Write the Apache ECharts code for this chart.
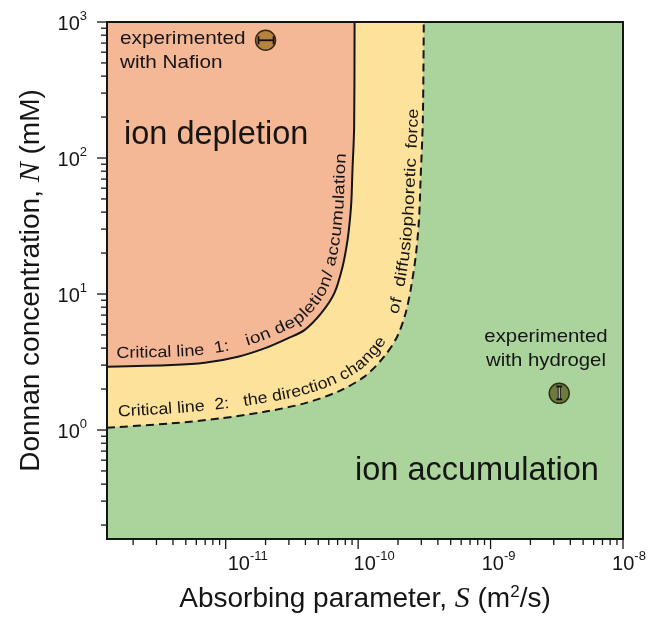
<!DOCTYPE html>
<html><head><meta charset="utf-8">
<script src="https://cdn.jsdelivr.net/npm/echarts@6/dist/echarts.min.js"></script>
<style>html,body{margin:0;padding:0;background:#fff}#c{width:649px;height:621px}</style>
</head><body><div id="c"></div>
<script>
// ---------------- data ----------------
const xRange = [1.27e-12, 1e-8];
const yRange = [0.158, 1000];
const xMajorTicks = [1e-11, 1e-10, 1e-9, 1e-8];
const yMajorTicks = [1, 10, 100, 1000];
const xMinorTicks = [2e-12,3e-12,4e-12,5e-12,6e-12,7e-12,8e-12,9e-12,
  2e-11,3e-11,4e-11,5e-11,6e-11,7e-11,8e-11,9e-11,
  2e-10,3e-10,4e-10,5e-10,6e-10,7e-10,8e-10,9e-10,
  2e-9,3e-9,4e-9,5e-9,6e-9,7e-9,8e-9,9e-9];
const yMinorTicks = [0.2,0.3,0.4,0.5,0.6,0.7,0.8,0.9,2,3,4,5,6,7,8,9,20,30,40,50,60,70,80,90,200,300,400,500,600,700,800,900];
// Critical line 1 (solid): ion depletion / accumulation
const criticalLine1 = [[1.27e-12,2.92],[3.91e-12,3.0],[6.95e-12,3.12],[1.24e-11,3.46],[1.96e-11,3.98],[2.94e-11,4.72],[3.93e-11,5.43],[5.25e-11,7.2],[6.6e-11,10.1],[7.62e-11,15.8],[8.32e-11,24.9],[8.71e-11,36.9],[8.9e-11,49],[9.06e-11,81],[9.33e-11,168],[9.4e-11,1000]];
// Critical line 2 (dashed): direction change of diffusiophoretic force
const criticalLine2 = [[1.27e-12,1.04],[3.91e-12,1.12],[9.29e-12,1.22],[1.96e-11,1.36],[3.93e-11,1.57],[6.98e-11,1.91],[1.11e-10,2.46],[1.57e-10,3.46],[1.97e-10,4.85],[2.28e-10,7.2],[2.49e-10,10.7],[2.72e-10,18.8],[2.88e-10,34.9],[2.96e-10,68.7],[3.08e-10,190],[3.13e-10,1000]];
// experiments: [S, N, low, high]
const nafionPoint = [2.0e-11, 734, 1.77e-11, 2.30e-11];   // error in S
const hydrogelPoint = [3.3e-9, 1.86, 1.68, 2.09];         // error in N

// ---------------- styles ----------------
const FONT = '"Liberation Sans", Arial, Helvetica, sans-serif';
const SERIF = '"Liberation Serif", "Times New Roman", serif';
const INK = '#151515';
const SALMON = '#F4B897', YELLOW = '#FDE29B', GREEN = '#AAD49B';
// horizontal nudge (spacer width, px) of the x tick labels, keyed by exponent
const xLabelNudge = {'-11': 44, '-10': 32, '-9': 16, '-8': 12};

const chart = echarts.init(document.getElementById('c'), null, {renderer: 'canvas'});

function powLabel(v) {
  const l = Math.log10(v), e = Math.round(l);
  if (Math.abs(l - e) > 1e-6) return '';
  return '{b|10}{s|' + e + '}';
}
function powLabelX(v) {
  const t = powLabel(v);
  if (!t) return '';
  const e = String(Math.round(Math.log10(v)));
  return '{g' + e.replace('-', 'm') + '| }' + t;
}
const labelRich = {
  b: {fontSize: 20, fontFamily: FONT, color: INK, lineHeight: 24, verticalAlign: 'bottom'},
  s: {fontSize: 13, fontFamily: FONT, color: INK, lineHeight: 15, verticalAlign: 'top'}
};
const labelRichX = Object.assign({}, labelRich);
Object.keys(xLabelNudge).forEach(k => { labelRichX['g' + k.replace('-', 'm')] = {width: xLabelNudge[k], fontSize: 10}; });

const xTickData = xMajorTicks.map(v => [v, yRange[0], 1]).concat(xMinorTicks.map(v => [v, yRange[0], 0]));
const yTickData = yMajorTicks.map(v => [xRange[0], v, 1]).concat(yMinorTicks.map(v => [xRange[0], v, 0]));

const option = {
  animation: false,
  backgroundColor: '#fff',
  grid: {left: 107, top: 22, right: 26, bottom: 82, show: true, backgroundColor: GREEN, borderWidth: 0,
         containLabel: false, outerBoundsMode: 'none'},
  xAxis: {
    type: 'log', logBase: 10, min: xRange[0], max: xRange[1],
    axisLine: {show: false}, axisTick: {show: false}, splitLine: {show: false},
    axisLabel: {margin: 11, formatter: powLabelX, rich: labelRichX, hideOverlap: false},
    name: 'Absorbing parameter, {i|S} (m{s|2}/s)', nameLocation: 'middle', nameGap: 45,
    nameTextStyle: {fontSize: 28, fontFamily: FONT, color: INK,
      rich: {i: {fontFamily: SERIF, fontStyle: 'italic', fontSize: 30, color: INK},
             s: {fontSize: 17, fontFamily: FONT, color: INK, verticalAlign: 'top', lineHeight: 18}}}
  },
  yAxis: {
    type: 'log', logBase: 10, min: yRange[0], max: yRange[1],
    axisLine: {show: false}, axisTick: {show: false}, splitLine: {show: false},
    axisLabel: {margin: 20, formatter: powLabel, rich: labelRich, hideOverlap: false},
    name: 'Donnan concentration, {i|N} (mM)', nameLocation: 'middle', nameGap: 61,
    nameTextStyle: {fontSize: 28, fontFamily: FONT, color: INK,
      rich: {i: {fontFamily: SERIF, fontStyle: 'italic', fontSize: 30, color: INK}}}
  },
  series: [
    {type: 'line', data: criticalLine2, smooth: 0.3, symbol: 'none', z: 2,
     lineStyle: {color: INK, width: 2, type: [8, 5]},
     areaStyle: {color: YELLOW, opacity: 1, origin: 'end'}},
    {type: 'line', data: criticalLine1, smooth: 0.3, symbol: 'none', z: 3,
     lineStyle: {color: INK, width: 2},
     areaStyle: {color: SALMON, opacity: 1, origin: 'end'}},
    {type: 'custom', z: 5, clip: false, data: xTickData, encode: {x: 0, y: 1},
     renderItem: (params, api) => {
       const p = api.coord([api.value(0), api.value(1)]);
       const len = api.value(2) ? 10 : 6;
       return {type: 'line', shape: {x1: p[0], y1: p[1], x2: p[0], y2: p[1] + len}, style: {stroke: INK, lineWidth: 1.3}};
     }},
    {type: 'custom', z: 5, clip: false, data: yTickData, encode: {x: 0, y: 1},
     renderItem: (params, api) => {
       const p = api.coord([api.value(0), api.value(1)]);
       const len = api.value(2) ? 10 : 6;
       return {type: 'line', shape: {x1: p[0], y1: p[1], x2: p[0] - len, y2: p[1]}, style: {stroke: INK, lineWidth: 1.3}};
     }},
    {type: 'scatter', z: 6, symbol: 'circle', symbolSize: 20, data: [[nafionPoint[0], nafionPoint[1]]],
     itemStyle: {color: '#B5823F', borderColor: '#3a2a14', borderWidth: 1.5, opacity: 1}},
    {type: 'scatter', z: 6, symbol: 'circle', symbolSize: 20, data: [[hydrogelPoint[0], hydrogelPoint[1]]],
     itemStyle: {color: '#6F7B3C', borderColor: '#2b3015', borderWidth: 1.5, opacity: 1}},
    {type: 'custom', z: 7, data: [nafionPoint], encode: {x: 0, y: 1},
     renderItem: (params, api) => {
       const a = api.coord([api.value(2), api.value(1)]), b = api.coord([api.value(3), api.value(1)]);
       return {type: 'group', children: [
         {type: 'line', shape: {x1: a[0], y1: a[1], x2: b[0], y2: b[1]}, style: {stroke: '#111', lineWidth: 1.8}},
         {type: 'line', shape: {x1: a[0], y1: a[1] - 4, x2: a[0], y2: a[1] + 4}, style: {stroke: '#111', lineWidth: 1.8}},
         {type: 'line', shape: {x1: b[0], y1: b[1] - 4, x2: b[0], y2: b[1] + 4}, style: {stroke: '#111', lineWidth: 1.8}}
       ]};
     }},
    {type: 'custom', z: 7, data: [hydrogelPoint], encode: {x: 0, y: 1},
     renderItem: (params, api) => {
       const a = api.coord([api.value(0), api.value(2)]), b = api.coord([api.value(0), api.value(3)]);
       return {type: 'group', children: [
         {type: 'line', shape: {x1: a[0], y1: a[1], x2: b[0], y2: b[1]}, style: {stroke: '#111', lineWidth: 3}},
         {type: 'line', shape: {x1: a[0] - 3, y1: a[1], x2: a[0] + 3, y2: a[1]}, style: {stroke: '#111', lineWidth: 1.8}},
         {type: 'line', shape: {x1: b[0] - 3, y1: b[1], x2: b[0] + 3, y2: b[1]}, style: {stroke: '#111', lineWidth: 1.8}},
         {type: 'line', shape: {x1: a[0], y1: a[1] - 1, x2: b[0], y2: b[1] + 1}, style: {stroke: '#e8e8e8', lineWidth: 1}}
       ]};
     }}
  ]
};
chart.setOption(option);

// ---------------- text along the critical lines ----------------
const mctx = document.createElement('canvas').getContext('2d');
function toPx(d) { return chart.convertToPixel({gridIndex: 0}, d); }
function densePath(data) {
  const px = data.map(toPx), out = [];
  for (let i = 0; i < px.length - 1; i++) {
    const p0 = px[Math.max(0, i - 1)], p1 = px[i], p2 = px[i + 1], p3 = px[Math.min(px.length - 1, i + 2)];
    for (let k = 0; k < 24; k++) {
      const t = k / 24, t2 = t * t, t3 = t2 * t;
      const f = (a, b, c, d) => 0.5 * (2 * b + (-a + c) * t + (2 * a - 5 * b + 4 * c - d) * t2 + (-a + 3 * b - 3 * c + d) * t3);
      out.push([f(p0[0], p1[0], p2[0], p3[0]), f(p0[1], p1[1], p2[1], p3[1])]);
    }
  }
  out.push(px[px.length - 1]);
  return out;
}
function offsetPath(pts, d0, d1) {
  const n = pts.length, cum = [0];
  for (let i = 1; i < n; i++) cum.push(cum[i - 1] + Math.hypot(pts[i][0] - pts[i - 1][0], pts[i][1] - pts[i - 1][1]));
  const total = cum[n - 1], out = [];
  for (let i = 0; i < n; i++) {
    const a = pts[Math.max(0, i - 4)], b = pts[Math.min(n - 1, i + 4)];
    let tx = b[0] - a[0], ty = b[1] - a[1]; const L = Math.hypot(tx, ty) || 1; tx /= L; ty /= L;
    const d = d0 + (d1 - d0) * (cum[i] / total);
    out.push([pts[i][0] + ty * d, pts[i][1] - tx * d]);
  }
  return out;
}
function pathTools(pts) {
  const cum = [0];
  for (let i = 1; i < pts.length; i++) cum.push(cum[i - 1] + Math.hypot(pts[i][0] - pts[i - 1][0], pts[i][1] - pts[i - 1][1]));
  function at(s) {
    s = Math.max(0, Math.min(cum[cum.length - 1], s));
    let i = 1; while (i < cum.length - 1 && cum[i] < s) i++;
    const t = (s - cum[i - 1]) / ((cum[i] - cum[i - 1]) || 1);
    return [pts[i - 1][0] + (pts[i][0] - pts[i - 1][0]) * t, pts[i - 1][1] + (pts[i][1] - pts[i - 1][1]) * t];
  }
  function nearest(p) {
    let best = 0, bd = Infinity;
    pts.forEach((q, i) => { const dd = (q[0] - p[0]) ** 2 + (q[1] - p[1]) ** 2; if (dd < bd) { bd = dd; best = i; } });
    return cum[best];
  }
  return {at, nearest};
}
// lays a text segment along the path between two anchor points
function layoutText(tools, segs, fontSize) {
  const font = fontSize + 'px ' + FONT;
  mctx.font = font;
  const els = [];
  segs.forEach(seg => {
    const s0 = tools.nearest(seg.from), s1 = tools.nearest(seg.to);
    const natural = [...seg.text].reduce((acc, ch) => acc + mctx.measureText(ch).width, 0);
    const k = (s1 - s0) / natural;
    const sx = Math.max(0.95, Math.min(k, 1.18));
    let s = s0;
    for (const ch of seg.text) {
      const w = mctx.measureText(ch).width * k;
      const c = tools.at(s + w / 2), a = tools.at(s + w / 2 - 3), b = tools.at(s + w / 2 + 3);
      const ang = Math.atan2(b[1] - a[1], b[0] - a[0]);
      if (ch !== ' ') els.push({type: 'text', x: c[0], y: c[1], rotation: -ang, scaleX: sx, z: 50,
        style: {text: ch, font: font, fill: INK, align: 'center', verticalAlign: 'middle'}});
      s += w;
    }
  });
  return els;
}

const path1 = pathTools(offsetPath(densePath(criticalLine1), 13, 11.5));
const path2 = pathTools(offsetPath(densePath(criticalLine2), 15, 8.5));
let graphics = [];
graphics = graphics.concat(layoutText(path1, [
  {text: 'Critical line  1:', from: [117, 352], to: [229, 346]},
  {text: 'ion depletion/ accumulation', from: [246, 343], to: [340, 153]}
], 16));
graphics = graphics.concat(layoutText(path2, [
  {text: 'Critical line  2:', from: [117, 410], to: [229, 405]},
  {text: 'the direction change', from: [243, 405], to: [380, 337]},
  {text: 'of', from: [390, 313], to: [401, 298]},
  {text: 'diffusiophoretic', from: [403, 287], to: [412, 157]},
  {text: 'force', from: [414, 148], to: [415, 107]}
], 16));

// region labels and experiment notes
function label(text, x, y, size, align, sx) {
  return {type: 'text', x: x, y: y, z: 50, scaleX: sx || 1,
    style: {text: text, font: size + 'px ' + FONT, fill: INK, align: align, verticalAlign: 'middle'}};
}
graphics.push(label('ion depletion', 124, 135, 32.5, 'left'));
graphics.push(label('ion accumulation', 355, 471, 32.5, 'left'));
graphics.push(label('experimented', 120, 39, 18.5, 'left', 1.12));
graphics.push(label('with Nafion', 120, 63, 18.5, 'left', 1.12));
graphics.push(label('experimented', 546, 337, 18.5, 'center', 1.1));
graphics.push(label('with hydrogel', 546, 361, 18.5, 'center', 1.1));

// plot frame on top
const tl = toPx([xRange[0], yRange[1]]), br = toPx([xRange[1], yRange[0]]);
graphics.push({type: 'rect', z: 60, shape: {x: tl[0], y: tl[1], width: br[0] - tl[0], height: br[1] - tl[1]},
  style: {fill: 'none', stroke: INK, lineWidth: 2}});

chart.setOption({graphic: {elements: graphics}});
</script>
</body></html>
